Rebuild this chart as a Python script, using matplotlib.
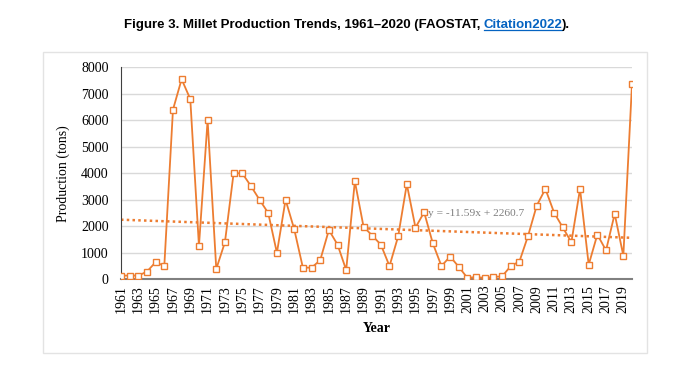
import matplotlib
matplotlib.use("Agg")
import matplotlib.pyplot as plt
from matplotlib.patches import Rectangle
from matplotlib.lines import Line2D

# data
years = list(range(1961, 2021))
production = [140, 140, 140, 290, 650, 500, 6400, 7550, 6800, 1260,
              6000, 390, 1400, 4000, 4000, 3520, 3000, 2500, 1000, 3000,
              1890, 440, 440, 720, 1860, 1310, 350, 3700, 1990, 1650,
              1310, 500, 1620, 3590, 1950, 2530, 1360, 500, 860, 470,
              50, 90, 50, 90, 110, 500, 670, 1640, 2780, 3410,
              2520, 1960, 1400, 3410, 550, 1690, 1090, 2470, 890, 7370]
tick_years = years[::2]
y_ticks = [0, 1000, 2000, 3000, 4000, 5000, 6000, 7000, 8000]
trend_slope = -11.59
trend_intercept = 2260.7

ORANGE = "#ED7D31"
SERIF = "Liberation Serif"

W, H = 691, 389
fig = plt.figure(figsize=(W / 100, H / 100), dpi=100)

# light frame around the chart
fig.patches.append(Rectangle((43 / W, 1 - 353 / H), (647 - 43) / W, (353 - 52) / H,
                             transform=fig.transFigure, fill=False,
                             edgecolor="#e3e3e3", linewidth=1.0))

ax = fig.add_axes([121 / W, 1 - 279.3 / H, (632 - 121) / W, (279.3 - 67.3) / H])
ax.plot(years, production, color=ORANGE, linewidth=1.3, marker="s",
        markersize=4.8, markerfacecolor="white", markeredgecolor=ORANGE,
        markeredgewidth=1.0, zorder=3)

trend = [trend_slope * (y - years[0] + 1) + trend_intercept for y in years]
ax.plot(years, trend, color=ORANGE, linewidth=1.8, linestyle=(0, (1, 1.3)), zorder=2)
ax.text(1996.4, 2470, "y = -11.59x + 2260.7", family=SERIF, fontsize=8.2,
        color="#7f7f7f", va="center", ha="left", zorder=4)

ax.set_xlim(years[0], years[-1])
ax.set_ylim(0, 8000)
ax.set_yticks(y_ticks)
ax.set_xticks(tick_years)
ax.set_xticklabels([str(y) for y in tick_years], rotation=90)
ax.tick_params(length=0, labelsize=10)
ax.tick_params(axis="y", pad=9)
ax.tick_params(axis="x", pad=4)
for lab in ax.get_xticklabels() + ax.get_yticklabels():
    lab.set_family(SERIF)
ax.grid(axis="y", color="#d9d9d9", linewidth=1)
ax.set_axisbelow(True)
for s in ["top", "right"]:
    ax.spines[s].set_visible(False)
ax.spines["left"].set_color("#404040")
ax.spines["bottom"].set_color("#808080")
ax.spines["bottom"].set_linewidth(1.5)
ax.set_ylabel("Production (tons)", family=SERIF, fontsize=10)
ax.yaxis.set_label_coords((70.5 - 121) / (632 - 121), 0.5)
fig.text(377 / W, 1 - 329 / H, "Year", family=SERIF, fontsize=10,
         fontweight="bold", ha="center", va="center")

# title with blue underlined citation
fig.canvas.draw()
r = fig.canvas.get_renderer()
parts = [("Figure 3. Millet Production Trends, 1961\u20132020 (FAOSTAT, ", "black"),
         ("Citation2022", "#0563C1"), (").", "black")]
texts = []
for s, c in parts:
    t = fig.text(0, 1 - 28 / H, s, family="Liberation Sans", fontweight="bold",
                 fontsize=9.5, color=c, va="baseline", ha="left")
    texts.append(t)
widths = [t.get_window_extent(r).width for t in texts]
x = (347 - sum(widths) / 2)
for t, w in zip(texts, widths):
    t.set_x(x / W)
    if t.get_text() == "Citation2022":
        fig.lines.append(Line2D([x / W, (x + w) / W], [1 - 30 / H, 1 - 30 / H],
                                transform=fig.transFigure, color="#0563C1", linewidth=0.9))
    x += w

fig.savefig("out.png", dpi=100)
